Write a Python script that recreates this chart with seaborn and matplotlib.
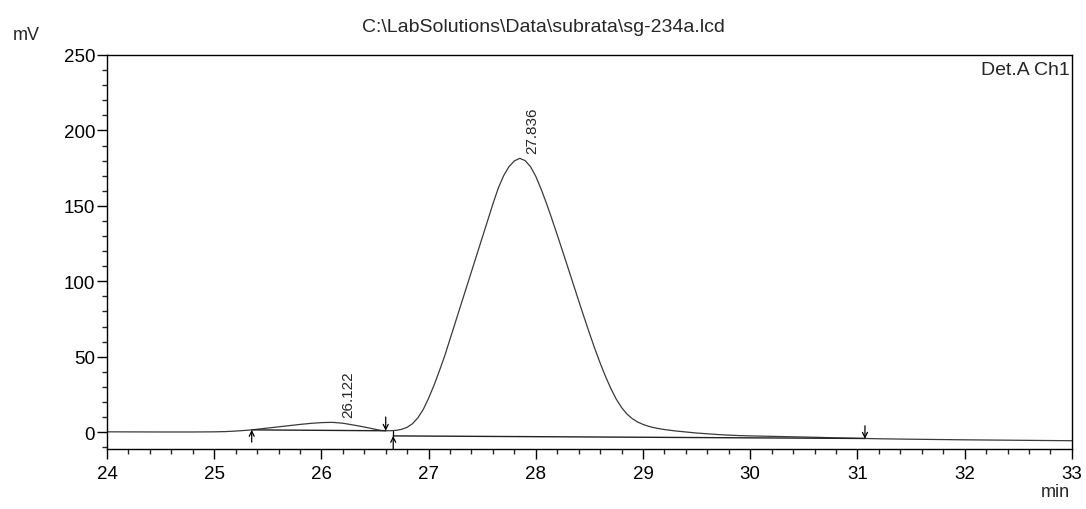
import numpy as np
import pandas as pd
import matplotlib
matplotlib.use("Agg")
import matplotlib.pyplot as plt
from matplotlib.ticker import MultipleLocator
import seaborn as sns

# retention time (min) and detector signal (mV)
time_min = [24.0, 24.5, 24.8, 25.0, 25.1, 25.2, 25.3, 25.35, 25.4, 25.5,
            25.6, 25.7, 25.8, 25.9, 26.0, 26.1, 26.2, 26.3, 26.4, 26.5,
            26.55, 26.6, 26.65, 26.7, 26.75, 26.8, 26.85, 26.9, 26.95, 27.0,
            27.05, 27.1, 27.15, 27.2, 27.25, 27.3, 27.35, 27.4, 27.45, 27.5,
            27.55, 27.6, 27.65, 27.7, 27.75, 27.8, 27.85, 27.9, 27.95, 28.0,
            28.05, 28.1, 28.15, 28.2, 28.25, 28.3, 28.35, 28.4, 28.45, 28.5,
            28.55, 28.6, 28.65, 28.7, 28.75, 28.8, 28.85, 28.9, 28.95, 29.0,
            29.05, 29.1, 29.15, 29.2, 29.3, 29.4, 29.5, 29.6, 29.7, 29.8,
            29.9, 30.0, 30.2, 30.4, 30.6, 30.8, 31.0, 31.2, 31.5, 32.0,
            32.5, 33.0]
signal_mv = [0.2, 0.1, 0.1, 0.2, 0.35, 0.7, 1.2, 1.5, 1.9, 2.7,
             3.5, 4.3, 5.1, 5.8, 6.3, 6.5, 5.9, 4.7, 3.4, 1.9,
             1.2, 0.9, 0.95, 1.2, 1.9, 3.2, 5.6, 9.5, 15.0, 22.5,
             31.0, 40.5, 50.5, 61.7, 72.9, 84.1, 95.3, 106.5, 117.7, 128.9,
             140.1, 151.3, 161.8, 170.0, 176.0, 179.8, 181.5, 180.0, 176.0, 169.5,
             161.0, 151.5, 141.3, 130.7, 119.9, 109.0, 98.0, 87.0, 76.2, 65.6,
             55.4, 45.8, 36.9, 28.9, 21.9, 16.3, 12.0, 8.9, 6.7, 5.1,
             3.9, 3.0, 2.3, 1.7, 0.8, 0.1, -0.6, -1.1, -1.6, -2.0,
             -2.3, -2.5, -2.8, -3.1, -3.4, -3.8, -4.1, -4.4, -4.7, -5.1,
             -5.4, -5.7]

peak_times = [26.122, 27.836]
peak_heights = [6.5, 181.6]
peak_labels = ["26.122", "27.836"]

# integration baselines (start/end time and level)
base_t = [[25.35, 26.6], [26.67, 31.07]]
base_v = [[1.5, 0.9], [-2.5, -4.2]]

sns.set_style("ticks")
plt.rcParams["font.family"] = ["Liberation Sans", "DejaVu Sans"]

df = pd.DataFrame({"t": time_min, "mv": signal_mv})

fig = plt.figure(figsize=(10.86, 5.10), dpi=100)
ax = fig.add_axes([0.0985, 0.1176, 0.8885, 0.7726])

sns.lineplot(data=df, x="t", y="mv", ax=ax, color="#3a3a3a", linewidth=0.9)

for bt, bv in zip(base_t, base_v):
    ax.plot(bt, bv, color="#222222", linewidth=1.0)

ymin = -11.2
# peak start / end markers
arrow_kw = dict(arrowstyle="->", color="black", lw=0.9, mutation_scale=9,
                shrinkA=0, shrinkB=0)
ax.annotate("", xy=(25.35, 1.5), xytext=(25.35, -6.6), arrowprops=arrow_kw)
ax.annotate("", xy=(26.6, 0.9), xytext=(26.6, 10.0), arrowprops=arrow_kw)
ax.plot([26.67, 26.67], [-2.5, 0.9], color="black", linewidth=0.9)
ax.annotate("", xy=(26.67, -2.5), xytext=(26.67, ymin), arrowprops=arrow_kw)
ax.annotate("", xy=(31.07, -4.4), xytext=(31.07, 4.2), arrowprops=arrow_kw)

for pt, ph, lab in zip(peak_times, peak_heights, peak_labels):
    ax.annotate(lab, xy=(pt, ph), xytext=(10, 4), textcoords="offset points",
                rotation=90, ha="center", va="bottom", fontsize=11)

ax.set_xlim(24, 33)
ax.set_ylim(ymin, 250)
ax.xaxis.set_major_locator(MultipleLocator(1))
ax.xaxis.set_minor_locator(MultipleLocator(0.2))
ax.yaxis.set_major_locator(MultipleLocator(50))
ax.yaxis.set_minor_locator(MultipleLocator(10))
ax.tick_params(axis="both", which="major", direction="out", length=7.5,
               width=1, labelsize=13.5, colors="black")
ax.tick_params(axis="both", which="minor", direction="out", length=3.8, width=1)
ax.tick_params(axis="y", pad=1)
ax.tick_params(axis="x", pad=4)
ax.set_xlabel("")
ax.set_ylabel("")
for s in ax.spines.values():
    s.set_visible(True)
    s.set_color("black")
    s.set_linewidth(1.0)

ax.text(0.998, 0.985, "Det.A Ch1", transform=ax.transAxes, ha="right",
        va="top", fontsize=14)
fig.text(0.5, 0.947, r"C:\LabSolutions\Data\subrata\sg-234a.lcd",
         ha="center", va="center", fontsize=14)
fig.text(0.024, 0.93, "mV", ha="center", va="center", fontsize=13)
fig.text(0.985, 0.035, "min", ha="right", va="center", fontsize=13)

fig.savefig("out.png", dpi=100, facecolor="white")
